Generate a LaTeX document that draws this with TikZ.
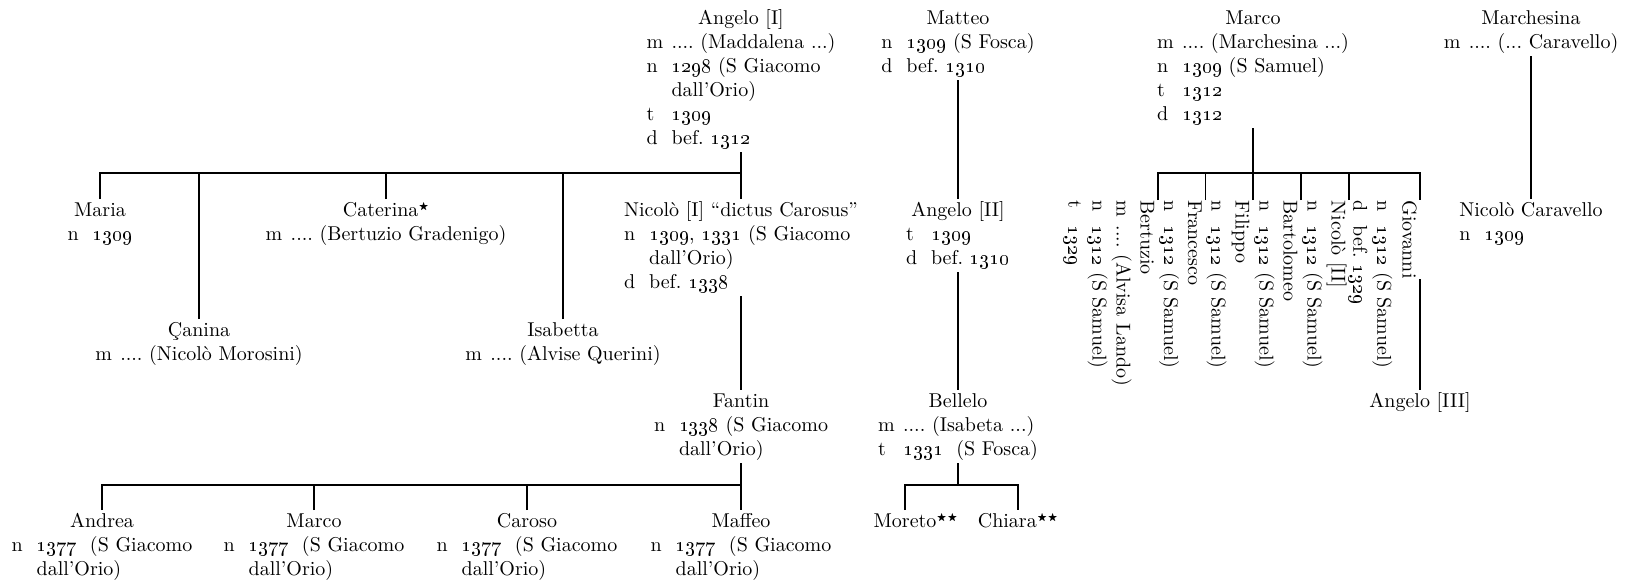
\documentclass[tikz,border=0pt]{standalone}
\usepackage{tikz}
\usepackage{amssymb}
\newcommand{\yr}[1]{{\fontencoding{TS1}\selectfont #1}}
\newcommand{\mstar}{\raisebox{0.75ex}{\tiny$\bigstar$}}
\frenchspacing

\begin{document}
\begin{tikzpicture}[x=0.5pt, y=-0.5pt, line width=0.6pt,
  person/.style = {inner sep=0pt, anchor=north},
  vperson/.style = {inner sep=0pt, anchor=north west, rotate=-90}]
  \useasboundingbox (0,0) rectangle (1628,584);

  % top row
  \node[person] (angelo1) at (741,7) {\begin{tabular}{@{}p{12.5pt}@{}l@{}}
      \multicolumn{2}{@{}c@{}}{Angelo [I]}\\
      m & .... (Maddalena ...)\\
      n & \yr{1298} (S Giacomo\\
        & dall’Orio)\\
      t & \yr{1309}\\
      d & bef. \yr{1312}
    \end{tabular}};
  \node[person] (matteo) at (958,7) {\begin{tabular}{@{}p{12.5pt}@{}l@{}}
      \multicolumn{2}{@{}c@{}}{Matteo}\\
      n & \yr{1309} (S Fosca)\\
      d & bef. \yr{1310}
    \end{tabular}};
  \node[person] (marco1) at (1253,7) {\begin{tabular}{@{}p{12.5pt}@{}l@{}}
      \multicolumn{2}{@{}c@{}}{Marco}\\
      m & .... (Marchesina ...)\\
      n & \yr{1309} (S Samuel)\\
      t & \yr{1312}\\
      d & \yr{1312}
    \end{tabular}};
  \node[person] (marchesina) at (1531,7) {\begin{tabular}{@{}p{12.5pt}@{}l@{}}
      \multicolumn{2}{@{}c@{}}{Marchesina}\\
      m & .... (... Caravello)
    \end{tabular}};

  % children of Angelo [I], Matteo, Marchesina
  \node[person] (maria) at (100,199) {\begin{tabular}{@{}p{12.5pt}@{}l@{}}
      \multicolumn{2}{@{}c@{}}{Maria}\\
      n & \yr{1309}
    \end{tabular}};
  \node[person] (canina) at (199,319) {\begin{tabular}{@{}p{12.5pt}@{}l@{}}
      \multicolumn{2}{@{}c@{}}{Çanina}\\
      m & .... (Nicolò Morosini)
    \end{tabular}};
  \node[person] (caterina) at (386,199) {\begin{tabular}{@{}p{12.5pt}@{}l@{}}
      \multicolumn{2}{@{}c@{}}{Caterina\mstar}\\
      m & .... (Bertuzio Gradenigo)
    \end{tabular}};
  \node[person] (isabetta) at (563,319) {\begin{tabular}{@{}p{12.5pt}@{}l@{}}
      \multicolumn{2}{@{}c@{}}{Isabetta}\\
      m & .... (Alvise Querini)
    \end{tabular}};
  \node[person] (nicolo1) at (741,199) {\begin{tabular}{@{}p{12.5pt}@{}l@{}}
      \multicolumn{2}{@{}c@{}}{Nicolò [I] “dictus Carosus”}\\
      n & \yr{1309}, \yr{1331} (S Giacomo\\
        & dall’Orio)\\
      d & bef. \yr{1338}
    \end{tabular}};
  \node[person] (angelo2) at (958,199) {\begin{tabular}{@{}p{12.5pt}@{}l@{}}
      \multicolumn{2}{@{}c@{}}{Angelo [II]}\\
      t & \yr{1309}\\
      d & bef. \yr{1310}
    \end{tabular}};
  \node[person] (caravello) at (1531,199) {\begin{tabular}{@{}p{12.5pt}@{}l@{}}
      \multicolumn{2}{@{}c@{}}{Nicolò Caravello}\\
      n & \yr{1309}
    \end{tabular}};

  % children of Marco, set sideways
  \node[vperson] (bertuzio) at (1158,200) {\begin{tabular}{@{}p{12.5pt}@{}l@{}}
      \multicolumn{2}{@{}l@{}}{Bertuzio}\\
      m & .... (Alvisa Lando)\\
      n & \yr{1312} (S Samuel)\\
      t & \yr{1329}
    \end{tabular}};
  \node[vperson] (francesco) at (1205.5,200) {\begin{tabular}{@{}p{12.5pt}@{}l@{}}
      \multicolumn{2}{@{}l@{}}{Francesco}\\
      n & \yr{1312} (S Samuel)
    \end{tabular}};
  \node[vperson] (filippo) at (1253,200) {\begin{tabular}{@{}p{12.5pt}@{}l@{}}
      \multicolumn{2}{@{}l@{}}{Filippo}\\
      n & \yr{1312} (S Samuel)
    \end{tabular}};
  \node[vperson] (bartolomeo) at (1301,200) {\begin{tabular}{@{}p{12.5pt}@{}l@{}}
      \multicolumn{2}{@{}l@{}}{Bartolomeo}\\
      n & \yr{1312} (S Samuel)
    \end{tabular}};
  \node[vperson] (nicolo2) at (1349,200) {\begin{tabular}{@{}p{12.5pt}@{}l@{}}
      \multicolumn{2}{@{}l@{}}{Nicolò [II]}\\
      n & \yr{1312} (S Samuel)
    \end{tabular}};
  \node[vperson] (giovanni) at (1420,200) {\begin{tabular}{@{}l@{}}
      Giovanni
    \end{tabular}};
  \node[vperson] (giovannid) at (giovanni.south west) {\begin{tabular}{@{}p{12.5pt}@{}l@{}}
      n & \yr{1312} (S Samuel)\\
      d & bef. \yr{1329}
    \end{tabular}};

  % third generation
  \node[person] (fantin) at (741,390) {\begin{tabular}{@{}p{12.5pt}@{}l@{}}
      \multicolumn{2}{@{}c@{}}{Fantin}\\
      n & \yr{1338} (S Giacomo\\
        & dall’Orio)
    \end{tabular}};
  \node[person] (bellelo) at (958,390) {\begin{tabular}{@{}p{12.5pt}@{}l@{}}
      \multicolumn{2}{@{}c@{}}{Bellelo}\\
      m & .... (Isabeta ...)\\
      t & \yr{1331}~ (S Fosca)
    \end{tabular}};
  \node[person] (angelo3) at (1420,390) {\begin{tabular}{@{}c@{}}
      Angelo [III]
    \end{tabular}};

  % fourth generation
  \node[person] (andrea) at (102,510) {\begin{tabular}{@{}p{12.5pt}@{}l@{}}
      \multicolumn{2}{@{}c@{}}{Andrea}\\
      n & \yr{1377}~ (S Giacomo\\
        & dall’Orio)
    \end{tabular}};
  \node[person] (marco2) at (314,510) {\begin{tabular}{@{}p{12.5pt}@{}l@{}}
      \multicolumn{2}{@{}c@{}}{Marco}\\
      n & \yr{1377}~ (S Giacomo\\
        & dall’Orio)
    \end{tabular}};
  \node[person] (caroso) at (527,510) {\begin{tabular}{@{}p{12.5pt}@{}l@{}}
      \multicolumn{2}{@{}c@{}}{Caroso}\\
      n & \yr{1377}~ (S Giacomo\\
        & dall’Orio)
    \end{tabular}};
  \node[person] (maffeo) at (741,510) {\begin{tabular}{@{}p{12.5pt}@{}l@{}}
      \multicolumn{2}{@{}c@{}}{Maffeo}\\
      n & \yr{1377}~ (S Giacomo\\
        & dall’Orio)
    \end{tabular}};
  \node[person] (moreto) at (905,510) {\begin{tabular}{@{}c@{}}
      Moreto\rlap{\mstar\mstar}
    \end{tabular}};
  \node[person] (chiara) at (1018,510) {\begin{tabular}{@{}c@{}}
      Chiara\mstar\mstar
    \end{tabular}};

  % lines of descent
  \coordinate (abar) at (741,173);
  \coordinate (mbar) at (1253,173);
  \coordinate (fbar) at (741,485);
  \draw (angelo1.south) -- (abar);
  \draw (maria.north) |- (abar) -- (nicolo1.north);
  \draw (canina.north) -- (canina.north |- abar);
  \draw (caterina.north) -- (caterina.north |- abar);
  \draw (isabetta.north) -- (isabetta.north |- abar);
  \draw (nicolo1.south) -- (fantin.north);
  \draw (fantin.south) -- (fbar);
  \draw (andrea.north) |- (fbar) -- (maffeo.north);
  \draw (marco2.north) -- (marco2.north |- fbar);
  \draw (caroso.north) -- (caroso.north |- fbar);
  \draw (matteo.south) -- (angelo2.north);
  \draw (angelo2.south) -- (bellelo.north);
  \draw (bellelo.south) -- (bellelo.south |- fbar);
  \draw (moreto.north) |- (bellelo.south |- fbar) -| (chiara.north);
  \draw (marco1.south) -- (mbar);
  \draw (bertuzio.north west) |- (mbar) -| (giovanni.north west);
  \draw (francesco.north west) -- (francesco.north west |- mbar);
  \draw (bartolomeo.north west) -- (bartolomeo.north west |- mbar);
  \draw (nicolo2.north west) -- (nicolo2.north west |- mbar);
  \draw (filippo.north west) -- (mbar);
  \draw (giovanni.north east) -- (angelo3.north);
  \draw (marchesina.south) -- (caravello.north);
\end{tikzpicture}
\end{document}
